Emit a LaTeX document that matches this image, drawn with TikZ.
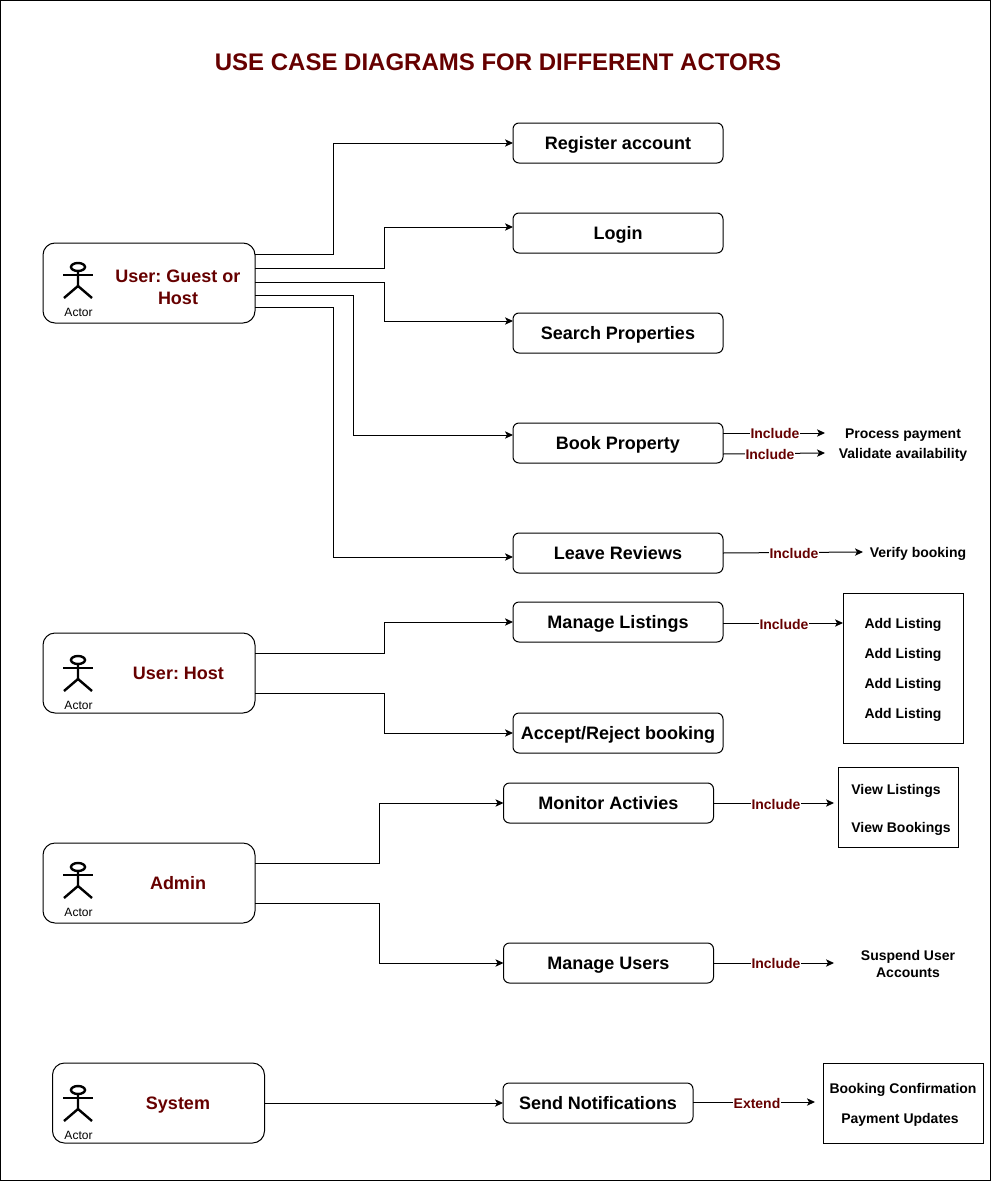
\documentclass[tikz,border=0pt]{standalone}
\usepackage{fontspec}
\setmainfont{Liberation Sans}
\usetikzlibrary{arrows.meta}
\definecolor{darkred}{HTML}{660000}
\frenchspacing
\tikzset{
  actorbox/.style={draw,rounded corners=9pt,minimum width=159pt,minimum height=60pt,inner sep=0pt,outer sep=0pt,line width=0.75pt},
  actorname/.style={text=darkred,font=\bfseries\fontsize{13.5}{16.5}\selectfont,align=center,inner sep=0pt},
  usecase/.style={draw,rounded corners=4.5pt,minimum height=30pt,inner sep=0pt,outer sep=0pt,line width=0.75pt,text height=9.7pt,text depth=0pt,font=\bfseries\fontsize{13.5}{16}\selectfont},
  bigcase/.style={usecase,minimum width=157.5pt},
  plainbox/.style={draw,inner sep=0pt,outer sep=0pt,line width=0.75pt},
  detail/.style={font=\bfseries\fontsize{10.5}{12.75}\selectfont,align=center,inner sep=0pt},
  oneline/.style={detail,text height=7.6pt,text depth=0pt},
  relation/.style={text=darkred,fill=white,font=\bfseries\fontsize{10.5}{12}\selectfont,inner sep=0.5pt},
  conn/.style={line width=0.75pt,-{Stealth[length=6pt,width=5.5pt,inset=1.5pt]}},
  actor/.pic={
    \draw[line width=1.8pt] (0,-16) ellipse [x radius=7,y radius=4];
    \draw[line width=1.8pt] (-15,-8) -- (15,-8);
    \draw[line width=1.8pt] (0,-12) -- (0,3) (-14,15) -- (0,3) -- (14,15);
    \node[font=\fontsize{9}{10}\selectfont,inner sep=0pt] (-label) at (0.5,29) {Actor};
  }
}
\begin{document}
\begin{tikzpicture}[x=0.75pt,y=-0.75pt]
  \useasboundingbox (0,0) rectangle (991,1181);
  \draw[line width=0.75pt] (0.5,0.5) rectangle (990.5,1180.5);

  \node[text=darkred,font=\bfseries\fontsize{18}{22}\selectfont,inner sep=0pt] (title) at (498,62) {USE CASE DIAGRAMS FOR DIFFERENT ACTORS};

  % actors
  \node[actorbox] (guest) at (149,283) {};
  \node[actorbox] (host) at (149,673) {};
  \node[actorbox] (admin) at (149,883) {};
  \node[actorbox] (system) at (158.5,1103) {};
  \pic (guestfig) at (78,283) {actor};
  \pic (hostfig) at (78,676) {actor};
  \pic (adminfig) at (78,883) {actor};
  \pic (systemfig) at (78,1106) {actor};
  \node[actorname] (guestname) at (178,287) {User: Guest or\\Host};
  \node[actorname] (hostname) at (178.5,673) {User: Host};
  \node[actorname] (adminname) at (178,883) {Admin};
  \node[actorname,text depth=0pt] (systemname) at (178,1103) {System};

  % use cases
  \node[bigcase] (register) at (618,143) {Register account};
  \node[bigcase] (login) at (618,233) {Login};
  \node[bigcase] (search) at (618,333) {Search Properties};
  \node[bigcase] (book) at (618,443) {Book Property};
  \node[bigcase] (reviews) at (618,553) {Leave Reviews};
  \node[bigcase] (listings) at (618,622) {Manage Listings};
  \node[bigcase] (accept) at (618,733) {Accept/Reject booking};
  \node[bigcase] (monitor) at (608.5,803) {Monitor Activies};
  \node[bigcase] (users) at (608.5,963) {Manage Users};
  \node[usecase,minimum width=142.5pt] (notify) at (598,1103) {Send Notifications};

  % included items
  \node[oneline] (payment) at (903,433) {Process payment};
  \node[oneline] (validate) at (903,453) {Validate availability};
  \node[oneline] (verify) at (918,552) {Verify booking};
  \node[plainbox,minimum width=90pt,minimum height=112.5pt] (addbox) at (903,668) {};
  \node[oneline] (add1) at (903,623) {Add Listing};
  \node[oneline] (add2) at (903,653) {Add Listing};
  \node[oneline] (add3) at (903,683) {Add Listing};
  \node[oneline] (add4) at (903,713) {Add Listing};
  \node[plainbox,minimum width=90pt,minimum height=60pt] (viewbox) at (898,807) {};
  \node[oneline] (viewlist) at (896,789) {View Listings};
  \node[oneline] (viewbook) at (901,827) {View Bookings};
  \node[detail] (suspend) at (908,963.5) {Suspend User\\Accounts};
  \node[plainbox,minimum width=120pt,minimum height=60pt] (extbox) at (903,1103) {};
  \node[oneline] (confirm) at (903,1088) {Booking Confirmation};
  \node[oneline] (updates) at (900,1118) {Payment Updates};

  \coordinate (paymentend) at (825,433);
  \coordinate (validateend) at (825,453);
  \coordinate (verifyend) at (863,552);
  \coordinate (viewend) at (834,803);
  \coordinate (suspendend) at (834,963);
  \coordinate (extendend) at (815,1102);

  % actor links
  \begin{scope}[conn]
    \draw (guest.east |- 0,254) -- ++(78,0) |- (register.west);
    \draw (guest.east |- 0,268) -- ++(129,0) |- (login.west |- 0,227);
    \draw (guest.east |- 0,282) -- ++(129,0) |- (search.west |- 0,321);
    \draw (guest.east |- 0,295) -- ++(98,0) |- (book.west |- 0,435);
    \draw (guest.east |- 0,307) -- ++(78,0) |- (reviews.west |- 0,557);
    \draw (host.east |- 0,653) -- ++(129,0) |- (listings.west);
    \draw (host.east |- 0,693) -- ++(129,0) |- (accept.west);
    \draw (admin.east |- 0,863) -- ++(124,0) |- (monitor.west);
    \draw (admin.east |- 0,903) -- ++(124,0) |- (users.west);
    \draw (system.east) -- (notify.west);
  \end{scope}

  % include and extend links
  \begin{scope}[conn]
    \draw (book.east |- 0,433) -- (paymentend);
    \draw (book.east |- 0,454) -- (validateend);
    \draw (reviews.east) -- (verifyend);
    \draw (listings.east |- 0,623) -- (addbox.west |- 0,623);
    \draw (monitor.east) -- (viewend);
    \draw (users.east) -- (suspendend);
    \draw (notify.east |- 0,1102) -- (extendend);
  \end{scope}
  \node[relation] (rel1) at (775,433) {Include};
  \node[relation] (rel2) at (770,454) {Include};
  \node[relation] (rel3) at (794,553) {Include};
  \node[relation] (rel4) at (784,624) {Include};
  \node[relation] (rel5) at (776,804) {Include};
  \node[relation] (rel6) at (776,963) {Include};
  \node[relation] (rel7) at (757,1103) {Extend};
\end{tikzpicture}
\end{document}
